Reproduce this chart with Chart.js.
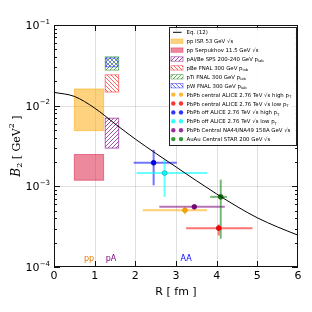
<!DOCTYPE html>
<html>
<head>
<meta charset="utf-8">
<script src="https://cdn.jsdelivr.net/npm/chart.js@4/dist/chart.umd.min.js"></script>
<style>
  html, body { margin: 0; padding: 0; background: #fff; }
  #wrap { width: 312px; height: 312px; }
</style>
</head>
<body>
<div id="wrap"><canvas id="chart" width="312" height="312"></canvas></div>
<script>
// ---------------- DATA ----------------
const curveR  = [0, 0.5, 1, 1.5, 2, 2.5, 3, 3.5, 4, 4.5, 5, 5.5, 6];
const curveB2 = [0.01462, 0.01303, 0.00933, 0.00596, 0.00385, 0.00257, 0.00174,
                 0.001175, 0.000804, 0.000562, 0.000407, 0.000313, 0.000248];

// boxes (pp / pA ranges)
const boxNames = ["pp ISR 53 GeV √s", "pp Serpukhov 11.5 GeV √s", "pAl/Be SPS 200-240 GeV p_{lab}",
                  "pBe FNAL 300 GeV p_{lab}", "pTi FNAL 300 GeV p_{lab}", "pW FNAL 300 GeV p_{lab}"];
const boxRmin  = [0.50, 0.50, 1.26, 1.26, 1.26, 1.28];
const boxRmax  = [1.22, 1.22, 1.59, 1.59, 1.59, 1.57];
const boxLow   = [0.0049, 0.00119, 0.00298, 0.01476, 0.0276, 0.0303];
const boxHigh  = [0.0161, 0.00248, 0.00699, 0.0241, 0.0403, 0.0390];

// points with error bars (AA)
const ptNames = ["PbPb central ALICE 2.76 TeV √s high p_{T}", "PbPb central ALICE 2.76 TeV √s low p_{T}",
                 "PbPb off ALICE 2.76 TeV √s high p_{T}", "PbPb off ALICE 2.76 TeV √s low p_{T}",
                 "PbPb Central NA44/NA49 158A GeV √s", "AuAu Central STAR 200 GeV √s"];
const ptR     = [3.22, 4.05, 2.45, 2.72, 3.45, 4.10];
const ptB2    = [5.06e-4, 3.03e-4, 1.96e-3, 1.46e-3, 5.57e-4, 7.4e-4];
const ptRlo   = [2.18, 3.25, 1.96, 2.03, 2.59, 3.84];
const ptRhi   = [3.76, 4.88, 3.02, 3.77, 4.20, 4.25];
const ptB2lo  = [4.5e-4, 2.46e-4, 1.03e-3, 7.4e-4, 5.35e-4, 2.24e-4];
const ptB2hi  = [5.6e-4, 3.37e-4, 2.84e-3, 2.18e-3, 5.8e-4, 1.21e-3];

// group labels
const groupText = ["pp", "pA", "AA"];
const groupR    = [0.86, 1.40, 3.25];
const groupB2   = [1.26e-4, 1.26e-4, 1.26e-4];

const xTicks = [0, 1, 2, 3, 4, 5, 6];
const yDecades = [1e-4, 1e-3, 1e-2, 1e-1];
const yExp = ["-4", "-3", "-2", "-1"];

// ---------------- STYLES ----------------
const ptColor  = ["#ffa500", "#ff0000", "#0000ff", "#00ffff", "#800080", "#008000"];
const ptEdge   = ["#d98c00", "#cc0000", "#0000aa", "#00b0b0", "#5a005a", "#005500"];
const ptBar    = ["rgba(255,165,0,0.55)", "rgba(255,0,0,0.55)", "rgba(0,0,255,0.55)",
                  "rgba(0,255,255,0.6)", "rgba(128,0,128,0.55)", "rgba(0,128,0,0.55)"];
const boxFill  = ["rgba(255,165,0,0.5)", "rgba(220,20,60,0.5)", null, null, null, null];
const boxEdge  = ["rgba(255,165,0,0.5)", "rgba(220,20,60,0.5)", "rgba(128,0,128,0.6)",
                  "rgba(255,0,0,0.5)", "rgba(0,128,0,0.5)", "rgba(0,0,255,0.5)"];
const boxHatch = [null, null, "/", "\\", "/", "\\"];
const hatchCol = [null, null, "rgba(128,0,128,0.85)", "rgba(255,0,0,0.75)",
                  "rgba(0,128,0,0.75)", "rgba(0,0,255,0.7)"];
const groupCol = ["#e07b00", "#800080", "#0000ff"];

Chart.defaults.font.family = "'DejaVu Sans', sans-serif";
Chart.defaults.color = "#000";

const canvas = document.getElementById("chart");
const ctx0 = canvas.getContext("2d");

function hatchPattern(color, dir) {
    const s = 4;
    const c = document.createElement("canvas");
    c.width = s; c.height = s;
    const g = c.getContext("2d");
    g.strokeStyle = color;
    g.lineWidth = 0.8;
    g.beginPath();
    if (dir === "/") {
        g.moveTo(0, s); g.lineTo(s, 0);
        g.moveTo(-1, 1); g.lineTo(1, -1);
        g.moveTo(s - 1, s + 1); g.lineTo(s + 1, s - 1);
    } else {
        g.moveTo(0, 0); g.lineTo(s, s);
        g.moveTo(s - 1, -1); g.lineTo(s + 1, 1);
        g.moveTo(-1, s - 1); g.lineTo(1, s + 1);
    }
    g.stroke();
    return ctx0.createPattern(c, "repeat");
}
const hatches = boxHatch.map((h, i) => h ? hatchPattern(hatchCol[i], h) : null);

// text with _{sub} and ^{sup}
function drawRich(ctx, str, x, y, size, family, align) {
    const parts = [];
    const re = /([_^])\{([^}]*)\}/g;
    let last = 0, m;
    while ((m = re.exec(str)) !== null) {
        if (m.index > last) parts.push([str.slice(last, m.index), "n"]);
        parts.push([m[2], m[1] === "_" ? "sub" : "sup"]);
        last = re.lastIndex;
    }
    if (last < str.length) parts.push([str.slice(last), "n"]);
    const fam = family || "'DejaVu Sans', sans-serif";
    let total = 0;
    parts.forEach(p => {
        ctx.font = (p[1] === "n" ? size : size * 0.7) + "px " + fam;
        p.w = ctx.measureText(p[0]).width;
        total += p.w;
    });
    let cx = align === "center" ? x - total / 2 : x;
    ctx.textBaseline = "alphabetic";
    ctx.textAlign = "left";
    parts.forEach(p => {
        ctx.font = (p[1] === "n" ? size : size * 0.7) + "px " + fam;
        const dy = p[1] === "sub" ? size * 0.25 : (p[1] === "sup" ? -size * 0.4 : 0);
        ctx.fillText(p[0], cx, y + dy);
        cx += p.w;
    });
}

// ---------------- PLUGIN ----------------
const decor = {
    id: "decor",
    beforeDatasetsDraw(chart) {
        const ctx = chart.ctx;
        const a = chart.chartArea;
        const xs = chart.scales.x, ys = chart.scales.y;
        ctx.save();
        // grid
        ctx.strokeStyle = "rgba(0,0,0,0.12)";
        ctx.lineWidth = 1;
        ctx.beginPath();
        xTicks.slice(1, -1).forEach(v => {
            const px = Math.round(xs.getPixelForValue(v)) + 0.5;
            ctx.moveTo(px, a.top); ctx.lineTo(px, a.bottom);
        });
        yDecades.slice(1, -1).forEach(v => {
            const py = Math.round(ys.getPixelForValue(v)) + 0.5;
            ctx.moveTo(a.left, py); ctx.lineTo(a.right, py);
        });
        ctx.stroke();

        // boxes
        boxNames.forEach((n, i) => {
            const x0 = xs.getPixelForValue(boxRmin[i]);
            const x1 = xs.getPixelForValue(boxRmax[i]);
            const y0 = ys.getPixelForValue(boxHigh[i]);
            const y1 = ys.getPixelForValue(boxLow[i]);
            if (boxFill[i]) {
                ctx.fillStyle = boxFill[i];
                ctx.fillRect(x0, y0, x1 - x0, y1 - y0);
            }
            if (hatches[i]) {
                ctx.fillStyle = hatches[i];
                ctx.fillRect(x0, y0, x1 - x0, y1 - y0);
            }
            ctx.strokeStyle = boxEdge[i];
            ctx.lineWidth = 1;
            ctx.strokeRect(x0, y0, x1 - x0, y1 - y0);
        });

        // error bars
        ctx.lineWidth = 2;
        ptNames.forEach((n, i) => {
            ctx.strokeStyle = ptBar[i];
            const px = xs.getPixelForValue(ptR[i]);
            const py = ys.getPixelForValue(ptB2[i]);
            ctx.beginPath();
            ctx.moveTo(xs.getPixelForValue(ptRlo[i]), py);
            ctx.lineTo(xs.getPixelForValue(ptRhi[i]), py);
            ctx.stroke();
            ctx.beginPath();
            ctx.moveTo(px, ys.getPixelForValue(ptB2hi[i]));
            ctx.lineTo(px, ys.getPixelForValue(ptB2lo[i]));
            ctx.stroke();
        });
        ctx.restore();
    },
    afterDraw(chart) {
        const ctx = chart.ctx;
        const a = chart.chartArea;
        const xs = chart.scales.x, ys = chart.scales.y;
        ctx.save();

        // group labels
        groupText.forEach((t, i) => {
            ctx.fillStyle = groupCol[i];
            ctx.font = "8px 'DejaVu Sans'";
            ctx.textAlign = "center";
            ctx.textBaseline = "middle";
            ctx.fillText(t, xs.getPixelForValue(groupR[i]), ys.getPixelForValue(groupB2[i]));
        });

        // frame
        ctx.strokeStyle = "#111";
        ctx.lineWidth = 1;
        ctx.strokeRect(Math.round(a.left) + 0.5, Math.round(a.top) + 0.5,
                       Math.round(a.right - a.left) - 1, Math.round(a.bottom - a.top) - 1);

        // ticks (inward)
        ctx.beginPath();
        xTicks.slice(1, -1).forEach(v => {
            const px = Math.round(xs.getPixelForValue(v)) + 0.5;
            ctx.moveTo(px, a.bottom); ctx.lineTo(px, a.bottom - 6);
            ctx.moveTo(px, a.top); ctx.lineTo(px, a.top + 6);
        });
        yDecades.forEach((v, k) => {
            const py = Math.round(ys.getPixelForValue(v)) + 0.5;
            ctx.moveTo(a.left, py); ctx.lineTo(a.left + 6, py);
            ctx.moveTo(a.right, py); ctx.lineTo(a.right - 6, py);
            if (k < yDecades.length - 1) {
                for (let m = 2; m <= 9; m++) {
                    const pm = Math.round(ys.getPixelForValue(v * m)) + 0.5;
                    ctx.moveTo(a.left, pm); ctx.lineTo(a.left + 3, pm);
                    ctx.moveTo(a.right, pm); ctx.lineTo(a.right - 3, pm);
                }
            }
        });
        ctx.stroke();

        // y tick labels 10^n
        ctx.fillStyle = "#000";
        yDecades.forEach((v, k) => {
            const py = ys.getPixelForValue(v);
            ctx.font = "7px 'DejaVu Sans'";
            const e = yExp[k].replace("-", "\u2212");
            const we = ctx.measureText(e).width;
            ctx.textAlign = "left";
            ctx.textBaseline = "alphabetic";
            const xe = 50 - we;
            ctx.fillText(e, xe, py - 1.5);
            ctx.font = "11px 'DejaVu Sans'";
            const wb = ctx.measureText("10").width;
            ctx.fillText("10", xe - wb - 0.3, py + 4);
        });

        // y title
        ctx.save();
        ctx.translate(17, (a.top + a.bottom) / 2);
        ctx.rotate(-Math.PI / 2);
        const segs = [["B", "italic 12px 'DejaVu Serif'", 0], ["2", "8px 'DejaVu Serif'", 3],
                      [" [ GeV", "11px 'DejaVu Serif'", 0], ["2", "8px 'DejaVu Serif'", -5],
                      [" ]", "11px 'DejaVu Serif'", 0]];
        let tw = 0;
        segs.forEach(s => { ctx.font = s[1]; s.w = ctx.measureText(s[0]).width; tw += s.w; });
        let cx = -tw / 2;
        ctx.textBaseline = "middle";
        ctx.textAlign = "left";
        segs.forEach(s => { ctx.font = s[1]; ctx.fillText(s[0], cx, s[2]); cx += s.w; });
        ctx.restore();

        // x title
        ctx.font = "11px 'DejaVu Sans'";
        ctx.textAlign = "center";
        ctx.textBaseline = "middle";
        ctx.fillText("R [ fm ]", (a.left + a.right) / 2, 292);

        // legend
        const lx = 169.5, ly = 27.5, lw = 127, lh = 118;
        ctx.fillStyle = "rgba(255,255,255,0.9)";
        ctx.fillRect(lx, ly, lw, lh);
        ctx.strokeStyle = "#222";
        ctx.lineWidth = 1;
        ctx.strokeRect(lx, ly, lw, lh);
        const rowH = 8.9;
        const fs = 5.4;
        let ry = 32.3;
        // curve entry
        ctx.strokeStyle = "#000";
        ctx.beginPath(); ctx.moveTo(173, ry); ctx.lineTo(181.5, ry); ctx.stroke();
        ctx.fillStyle = "#000";
        drawRich(ctx, "Eq. (12)", 186.5, ry + 2, fs);
        boxNames.forEach((n, i) => {
            ry += rowH;
            const x0 = 171, y0 = ry - 2.2, w = 12, h = 4.4;
            if (boxFill[i]) { ctx.fillStyle = boxFill[i]; ctx.fillRect(x0, y0, w, h); }
            if (hatches[i]) { ctx.fillStyle = hatches[i]; ctx.fillRect(x0, y0, w, h); }
            ctx.strokeStyle = boxEdge[i];
            ctx.lineWidth = 0.8;
            ctx.strokeRect(x0, y0, w, h);
            ctx.fillStyle = "#000";
            drawRich(ctx, n, 186.5, ry + 2, fs);
        });
        ptNames.forEach((n, i) => {
            ry += rowH;
            [173.3, 181].forEach(mx => {
                ctx.beginPath();
                ctx.arc(mx, ry, 2.2, 0, Math.PI * 2);
                ctx.fillStyle = ptColor[i];
                ctx.globalAlpha = 0.8;
                ctx.fill();
                ctx.globalAlpha = 1;
            });
            ctx.fillStyle = "#000";
            drawRich(ctx, n, 186.5, ry + 2, fs);
        });
        ctx.restore();
    }
};

// ---------------- CHART ----------------
const datasets = [{
    type: "line",
    label: "Eq. (12)",
    data: curveR.map((r, i) => ({ x: r, y: curveB2[i] })),
    borderColor: "#000",
    borderWidth: 1,
    pointRadius: 0,
    showLine: true,
    fill: false,
    cubicInterpolationMode: "monotone"
}];
ptNames.forEach((n, i) => {
    datasets.push({
        type: "scatter",
        label: n,
        data: [{ x: ptR[i], y: ptB2[i] }],
        pointRadius: 2.4,
        pointBackgroundColor: ptColor[i],
        pointBorderColor: ptEdge[i],
        pointBorderWidth: 0.7
    });
});

new Chart(canvas, {
    type: "scatter",
    data: { datasets: datasets },
    options: {
        responsive: false,
        animation: false,
        events: [],
        layout: { padding: { top: 25, right: 14, left: 0, bottom: 0 } },
        plugins: { legend: { display: false }, tooltip: { enabled: false } },
        scales: {
            x: {
                type: "linear",
                min: 0, max: 6,
                afterFit: s => { s.height = 45; },
                grid: { display: false, drawTicks: false },
                border: { display: false },
                ticks: { stepSize: 1, padding: 3, font: { size: 11 }, color: "#000" }
            },
            y: {
                type: "logarithmic",
                min: 1e-4, max: 1e-1,
                afterFit: s => { s.width = 54; },
                grid: { display: false, drawTicks: false },
                border: { display: false },
                ticks: { display: false }
            }
        }
    },
    plugins: [decor]
});
</script>
</body>
</html>
